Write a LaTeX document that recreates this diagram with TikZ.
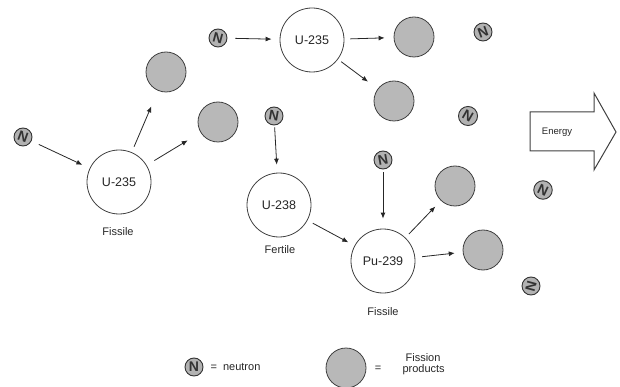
\documentclass[tikz,border=0pt]{standalone}
\usepackage{fontspec}
\setmainfont{Liberation Sans}
\usetikzlibrary{arrows.meta}
\begin{document}
\begin{tikzpicture}[x=1pt,y=-1pt,
  nucleus/.style={circle,draw=black!75,line width=0.8pt,fill=white,minimum size=64pt,inner sep=0pt,font=\fontsize{12.5}{13}\selectfont,text=black!85},
  product/.style={circle,draw=black!75,line width=0.8pt,fill=black!28,minimum size=40pt,inner sep=0pt},
  neutron/.style={circle,draw=black!80,line width=0.9pt,fill=black!30,minimum size=18pt,inner sep=0pt,font=\fontsize{14}{14}\selectfont\bfseries,text=black!80},
  lbl/.style={font=\fontsize{11}{12}\selectfont,text=black!85},
  arr/.style={-{Latex[length=6pt,width=5pt]},line width=0.8pt,black!85}]
\useasboundingbox (0,0) rectangle (620,387);
% nuclei
\node[nucleus] (ua) at (119,182) {U-235};
\node[nucleus] (ub) at (312,40) {U-235};
\node[nucleus] (uc) at (279,205) {U-238};
\node[nucleus] (pu) at (383,261) {Pu-239};
% labels
\node[lbl] (la) at (118,232) {Fissile};
\node[lbl] (lc) at (280,250) {Fertile};
\node[lbl] (lp) at (383,312) {Fissile};
% fission products
\node[product] (f1) at (166,72) {};
\node[product] (f2) at (218,122) {};
\node[product] (f3) at (414,37) {};
\node[product] (f4) at (394,101) {};
\node[product] (f5) at (455,186) {};
\node[product] (f6) at (483,250) {};
% neutrons
\node[neutron] (n1) at (23,137) {\rotatebox{-20}{N}};
\node[neutron] (n2) at (218,38) {\rotatebox{-15}{N}};
\node[neutron] (n3) at (274,116) {\rotatebox{-10}{N}};
\node[neutron] (n4) at (483,32) {\rotatebox{20}{N}};
\node[neutron] (n5) at (468,116) {\rotatebox{-30}{N}};
\node[neutron] (n6) at (383,160) {\rotatebox{10}{N}};
\node[neutron] (n7) at (543,190) {\rotatebox{-25}{N}};
\node[neutron] (n8) at (531,286) {\rotatebox{75}{N}};
% arrows
\draw[arr,shorten <=8pt,shorten >=8pt] (n1) -- (ua);
\draw[arr,shorten <=6pt,shorten >=17pt] (ua) -- (f1);
\draw[arr,shorten <=9pt,shorten >=15pt] (ua) -- (f2);
\draw[arr,shorten <=8pt,shorten >=8pt] (n2) -- (ub);
\draw[arr,shorten <=6pt,shorten >=9pt] (ub) -- (f3);
\draw[arr,shorten <=4pt,shorten >=12pt] (ub) -- (f4);
\draw[arr,shorten <=2pt,shorten >=8pt] (n3) -- (uc);
\draw[arr,shorten <=6pt,shorten >=7pt] (uc) -- (pu);
\draw[arr,shorten <=3pt,shorten >=10pt] (n6) -- (pu);
\draw[arr,shorten <=5pt,shorten >=8pt] (pu) -- (f5);
\draw[arr,shorten <=7pt,shorten >=8pt] (pu) -- (f6);
% energy arrow
\coordinate (e1) at (530,112);
\coordinate (e2) at (594,112);
\coordinate (e3) at (594,93);
\coordinate (e4) at (616,132);
\coordinate (e5) at (594,170);
\coordinate (e6) at (594,151);
\coordinate (e7) at (530,151);
\fill[white] (e1) -- (e2) -- (e3) -- (e4) -- (e5) -- (e6) -- (e7) -- cycle;
\draw[line width=1pt,black!75,line join=miter] (e1) -- (e2) -- (e3) -- (e4) -- (e5) -- (e6) -- (e7) -- (e1) -- (e2);
\node[font=\fontsize{9.5}{11}\selectfont,text=black!85] (en) at (557,132) {Energy};
% legend
\node[neutron] (ln) at (194,367) {N};
\node[lbl,anchor=west] (lnt) at (207,367) {=\ \ neutron};
\node[product] (lf) at (346,368) {};
\node[lbl] (leq) at (378,369) {=};
\node[lbl,anchor=west,align=left,font=\fontsize{11}{11.5}\selectfont] (lft) at (399,364) {\ Fission\\products};
\end{tikzpicture}
\end{document}
